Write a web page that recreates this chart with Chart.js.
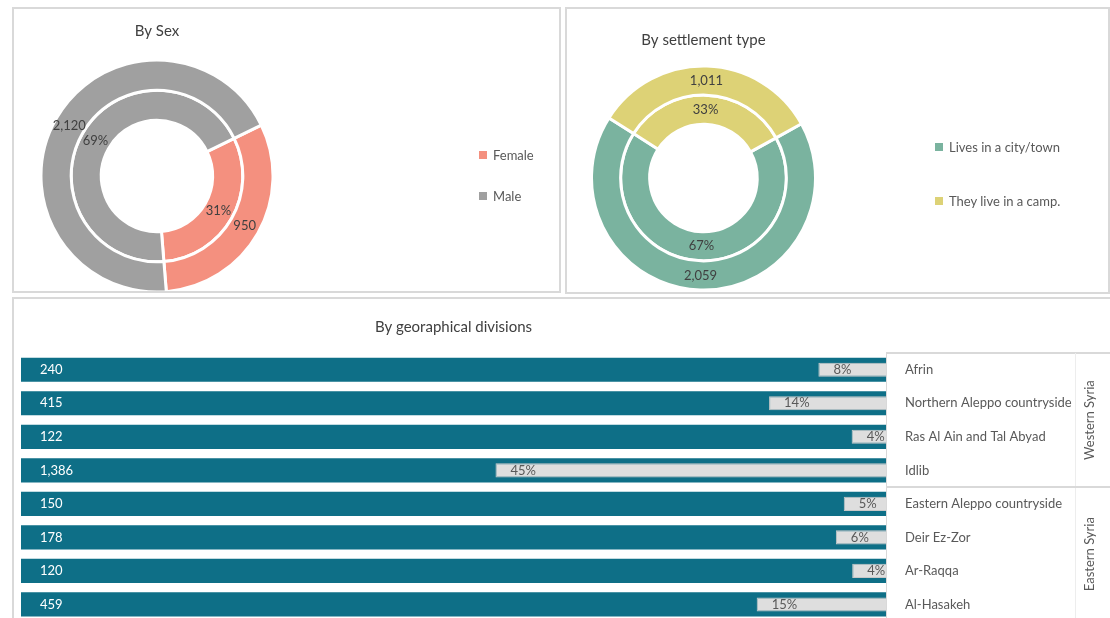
<!DOCTYPE html>
<html>
<head>
<meta charset="utf-8">
<title>Respondents breakdown</title>
<script src="https://cdn.jsdelivr.net/npm/chart.js@4/dist/chart.umd.min.js"></script>
<style>
  body { margin: 0; width: 1110px; height: 618px; overflow: hidden; background: #fff; position: relative; font-family: Lato, sans-serif; }
  .panel { position: absolute; border: 2px solid #d9d9d9; box-sizing: border-box; }
  canvas { position: absolute; }
  .legend { position: absolute; margin: 0; padding: 0; list-style: none; font-size: 13px; color: #595959; }
  .legend li { position: absolute; left: 0; white-space: nowrap; display: flex; align-items: center; height: 16px; }
  .legend .box { width: 8px; height: 8px; margin-right: 6px; }
</style>
</head>
<body>

<div class="panel" style="left:12px; top:7px; width:549px; height:286px;"></div>
<div class="panel" style="left:565px; top:7px; width:545px; height:287px;"></div>
<div class="panel" style="left:12px; top:297px; width:1110px; height:360px;"></div>

<canvas id="bySex" width="545" height="282" style="left:14px; top:9px;"></canvas>
<ul class="legend" id="bySexLegend" style="left:479px; top:0;"></ul>

<canvas id="bySettlement" width="543" height="283" style="left:566px; top:9px;"></canvas>
<ul class="legend" id="bySettlementLegend" style="left:935px; top:0;"></ul>

<canvas id="byRegion" width="1096" height="349" style="left:14px; top:299px;"></canvas>

<script>
// ---------- data ----------
const sexLabels = ["Female", "Male"];
const sexCounts = [950, 2120];
const sexColors = ["#f4907f", "#a0a0a0"];

const settlementLabels = ["Lives in a city/town", "They live in a camp."];
const settlementCounts = [2059, 1011];
const settlementColors = ["#7ab39f", "#ddd276"];

const regions = [
  "Afrin", "Northern Aleppo countryside", "Ras Al Ain and Tal Abyad", "Idlib",
  "Eastern Aleppo countryside", "Deir Ez-Zor", "Ar-Raqqa", "Al-Hasakeh"
];
const regionCounts = [240, 415, 122, 1386, 150, 178, 120, 459];
const regionGroups = ["Western Syria", "Eastern Syria"];
const regionGroupSizes = [4, 4];

const FONT = "Lato, sans-serif";
const TEXT = "#404040";

const sum = (arr) => arr.reduce((a, b) => a + b, 0);
const pct = (v, arr) => Math.round((v / sum(arr)) * 100) + "%";

// ---------- labels on the rings: counts outside, shares inside ----------
const ringLabels = {
  id: "ringLabels",
  afterDatasetsDraw(chart) {
    const ctx = chart.ctx;
    ctx.save();
    ctx.font = "13px " + FONT;
    ctx.fillStyle = TEXT;
    ctx.textAlign = "center";
    ctx.textBaseline = "middle";
    chart.data.datasets.forEach((ds, i) => {
      chart.getDatasetMeta(i).data.forEach((arc, j) => {
        const p = arc.tooltipPosition();
        const v = ds.data[j];
        const txt = i === 0 ? v.toLocaleString("en-US") : pct(v, ds.data);
        ctx.fillText(txt, p.x, p.y);
      });
    });
    ctx.restore();
  },
};

function buildLegend(id, labels, colors, rows) {
  const ul = document.getElementById(id);
  labels.forEach((lab, i) => {
    const li = document.createElement("li");
    li.style.top = rows[i] - 8 + "px";
    li.innerHTML = '<span class="box" style="background:' + colors[i] + '"></span>' + lab;
    ul.appendChild(li);
  });
}

function ringChart(id, title, labels, counts, colors, opts) {
  return new Chart(document.getElementById(id), {
    type: "doughnut",
    data: {
      labels: labels,
      datasets: [
        { data: counts, backgroundColor: colors, borderColor: "#fff", borderWidth: 3, clip: false },
        { data: counts, backgroundColor: colors, borderColor: "#fff", borderWidth: 3, clip: false },
      ],
    },
    options: {
      responsive: false,
      animation: false,
      rotation: opts.rotation,
      radius: opts.radius,
      cutout: "48%",
      layout: { padding: { right: opts.padRight } },
      plugins: {
        legend: { display: false },
        tooltip: { enabled: false },
        title: {
          display: true,
          text: title,
          fullSize: false,
          color: TEXT,
          font: { family: FONT, size: 15, weight: "normal" },
          padding: opts.titlePadding,
        },
      },
    },
    plugins: [ringLabels],
  });
}

// ==================== BY SEX ====================
const sexChart = ringChart("bySex", "By Sex", sexLabels, sexCounts, sexColors, {
  rotation: 64, radius: 116, padRight: 259, titlePadding: { top: 13, bottom: 21 },
});
buildLegend("bySexLegend", sexLabels, sexColors, [155, 196]);

// ==================== BY SETTLEMENT ====================
const settlementChart = ringChart("bySettlement", "By settlement type", settlementLabels, settlementCounts, settlementColors, {
  rotation: 61, radius: 112, padRight: 268, titlePadding: { top: 22, bottom: 15 },
});
buildLegend("bySettlementLegend", settlementLabels, settlementColors, [147, 201]);

// ==================== BY REGION ====================
const regionShares = regionCounts.map((v) => (v / sum(regionCounts)) * 100);

// count in white at the start of each row, share at the edge of the grey bar
const barLabels = {
  id: "barLabels",
  afterDatasetsDraw(chart) {
    const ctx = chart.ctx;
    const area = chart.chartArea;
    ctx.save();
    ctx.font = "13px " + FONT;
    ctx.textBaseline = "middle";
    ctx.textAlign = "left";
    chart.getDatasetMeta(0).data.forEach((bar, j) => {
      ctx.fillStyle = "#ffffff";
      ctx.fillText(regionCounts[j].toLocaleString("en-US"), area.left + 19, bar.y);
    });
    chart.getDatasetMeta(1).data.forEach((bar, j) => {
      ctx.fillStyle = "#595959";
      ctx.fillText(pct(regionCounts[j], regionCounts), bar.x + 15, bar.y);
    });
    ctx.restore();
  },
};

// group brackets to the right of the region names
const groupBrackets = {
  id: "groupBrackets",
  afterDraw(chart) {
    const ctx = chart.ctx;
    const y = chart.scales.y;
    const area = chart.chartArea;
    const right = chart.width;
    const labelX = area.right + 204;
    ctx.save();
    ctx.strokeStyle = "#d9d9d9";
    ctx.lineWidth = 2;
    ctx.beginPath();
    ctx.moveTo(area.right, area.top);
    ctx.lineTo(right, area.top);
    ctx.stroke();

    ctx.strokeStyle = "#ededed";
    ctx.lineWidth = 1;
    ctx.beginPath();
    ctx.moveTo(area.right + 189.5, area.top);
    ctx.lineTo(area.right + 189.5, area.bottom);
    ctx.stroke();

    let start = 0;
    regionGroups.forEach((name, g) => {
      const end = start + regionGroupSizes[g] - 1;
      const top = (y.getPixelForValue(start) + y.getPixelForValue(start - 1)) / 2;
      const bottom = (y.getPixelForValue(end) + y.getPixelForValue(end + 1)) / 2;
      if (g > 0) {
        ctx.strokeStyle = "#d9d9d9";
        ctx.lineWidth = 2;
        ctx.beginPath();
        ctx.moveTo(area.right, top);
        ctx.lineTo(right, top);
        ctx.stroke();
      }
      ctx.save();
      ctx.translate(labelX, (top + bottom) / 2);
      ctx.rotate(-Math.PI / 2);
      ctx.font = "13px " + FONT;
      ctx.fillStyle = "#595959";
      ctx.textAlign = "center";
      ctx.textBaseline = "middle";
      ctx.fillText(name, 0, 0);
      ctx.restore();
      start = end + 1;
    });
    ctx.restore();
  },
};

const regionChart = new Chart(document.getElementById("byRegion"), {
  type: "bar",
  data: {
    labels: regions,
    datasets: [
      {
        label: "Respondents",
        data: regions.map(() => 100),
        backgroundColor: "#0e6f87",
        barPercentage: 0.72,
        categoryPercentage: 1,
        grouped: false,
        order: 2,
      },
      {
        label: "Share",
        data: regionShares,
        backgroundColor: "#dedede",
        borderColor: "#c8c8c8",
        borderWidth: 1,
        barPercentage: 0.42,
        categoryPercentage: 1,
        grouped: false,
        order: 1,
      },
    ],
  },
  options: {
    indexAxis: "y",
    responsive: false,
    animation: false,
    layout: { padding: { left: 7 } },
    scales: {
      x: { display: false, reverse: true, min: 0, max: 100 },
      y: {
        position: "right",
        grid: { display: false, drawTicks: false },
        border: { display: true, color: "#d9d9d9", width: 1 },
        ticks: { color: "#595959", padding: 19, font: { family: FONT, size: 13 } },
        afterFit(scale) { scale.width = 224; },
      },
    },
    plugins: {
      legend: { display: false },
      tooltip: { enabled: false },
      title: {
        display: true,
        text: "By georaphical divisions",
        fullSize: false,
        color: TEXT,
        font: { family: FONT, size: 15, weight: "normal" },
        padding: { top: 19, bottom: 17 },
      },
    },
  },
  plugins: [barLabels, groupBrackets],
});
</script>
</body>
</html>
